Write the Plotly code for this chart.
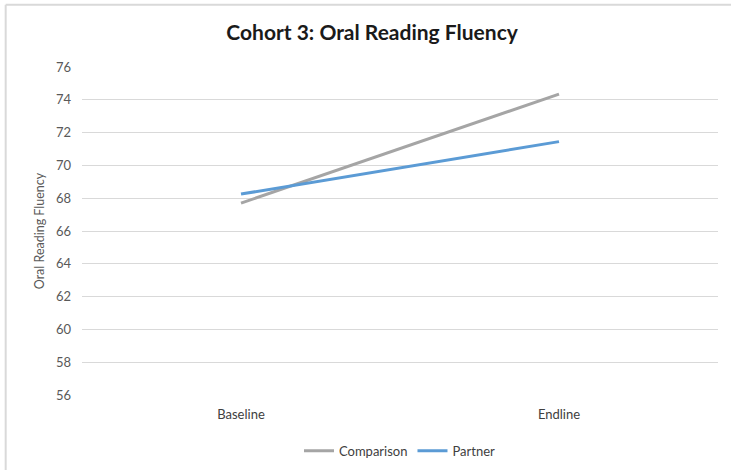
import plotly.graph_objects as go

# Oral reading fluency scores by time point
time_points = ["Baseline", "Endline"]
comparison = [67.7, 74.35]
partner = [68.25, 71.45]
y_ticks = list(range(56, 77, 2))

fig = go.Figure()
fig.add_trace(go.Scatter(x=time_points, y=comparison, mode="lines", name="Comparison",
                         line=dict(color="#a5a5a5", width=3)))
fig.add_trace(go.Scatter(x=time_points, y=partner, mode="lines", name="Partner",
                         line=dict(color="#5b9bd5", width=3)))

fig.update_layout(
    width=731, height=470,
    margin=dict(l=82, r=13, t=67, b=75, autoexpand=False),
    paper_bgcolor="white", plot_bgcolor="white",
    title=dict(text="<b>Cohort 3: Oral Reading Fluency</b>", x=0.509, xanchor="center",
               y=0.93, yanchor="middle",
               font=dict(family="Lato, sans-serif", size=21, color="#1a1a1a")),
    font=dict(family="Lato, sans-serif", size=13, color="#595959"),
    xaxis=dict(type="category", range=[-0.5, 1.5], showgrid=False, zeroline=False,
               showline=False, ticks="", ticklabelstandoff=10,
               tickfont=dict(size=13, color="#404040")),
    yaxis=dict(range=[56, 76], tickvals=y_ticks, showgrid=True, gridcolor="#d9d9d9",
               gridwidth=1, zeroline=False, showline=False, ticks="",
               ticklabelstandoff=10, tickfont=dict(size=13, color="#595959"),
               title=dict(text="Oral Reading Fluency", font=dict(size=12.5, color="#595959"),
                          standoff=8)),
    legend=dict(orientation="h", x=0.5, xanchor="center", y=-0.17, yanchor="middle",
                font=dict(size=13, color="#404040"), itemwidth=30),
    showlegend=True,
    shapes=[
        dict(type="line", xref="paper", yref="paper", x0=-0.12, x1=1.03, y0=1.19, y1=1.19,
             line=dict(color="#d9d9d9", width=2)),
        dict(type="line", xref="paper", yref="paper", x0=-0.12, x1=-0.12, y0=1.19, y1=-0.23,
             line=dict(color="#d9d9d9", width=2)),
    ],
)

fig.write_html("out.html")
